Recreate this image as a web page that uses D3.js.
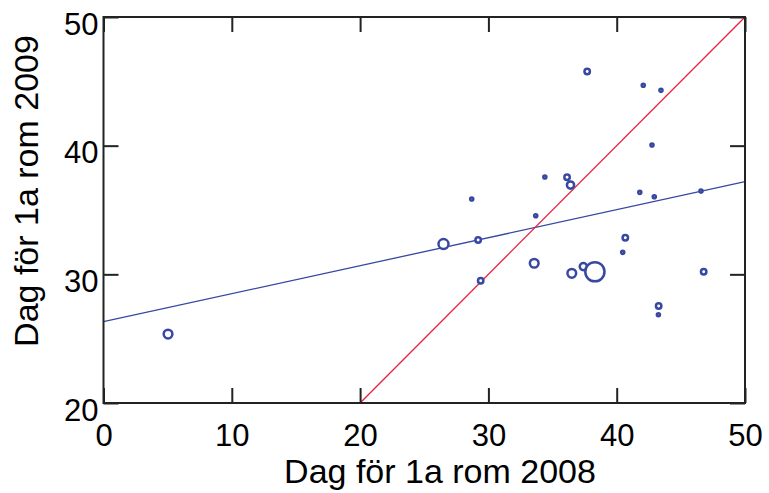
<!DOCTYPE html>
<html>
<head>
<meta charset="utf-8">
<script src="https://cdn.jsdelivr.net/npm/d3@7"></script>
<style>
  html, body { margin: 0; padding: 0; background: #fff; }
  svg { display: block; }
  text { font-family: "Liberation Sans", Arial, sans-serif; fill: #000; }
</style>
</head>
<body>
<svg id="chart" width="769" height="493"></svg>
<script>
// Dag för 1a rom 2008 (x) och 2009 (y), antal (bubbelstorlek)
const dag2008 = [5.03, 26.5, 29.2, 28.7, 29.4, 33.57, 33.69, 34.4, 36.13, 36.4, 36.5, 37.4, 38.3, 37.7, 42.07, 43.45, 42.75, 41.8, 42.93, 46.57, 40.67, 40.47, 46.78, 43.27, 43.25];
const dag2009 = [25.36, 32.35, 32.67, 35.85, 29.5, 30.86, 34.55, 37.56, 37.54, 36.94, 30.08, 30.6, 30.2, 45.77, 44.69, 44.3, 40.05, 36.37, 36.03, 36.47, 32.84, 31.71, 30.2, 27.54, 26.86];
const antal   = [4, 5, 2, 1, 2, 4, 1, 1, 2, 3, 4, 3, 15, 2, 1, 1, 1, 1, 1, 1, 2, 1, 2, 2, 1];

const xTicks = [0, 10, 20, 30, 40, 50];
const yTicks = [20, 30, 40, 50];

// regressionslinje och 1:1-linje
const trendX = [0, 50];
const trendY = [26.32, 37.2];
const refX = [20, 50];
const refY = [20, 50];

const xLabel = "Dag för 1a rom 2008";
const yLabel = "Dag för 1a rom 2009";

const svg = d3.select("#chart");
const L = 103.5, R = 745, T = 17, B = 403;
const x = d3.scaleLinear().domain([0, 50]).range([L, R]);
const y = d3.scaleLinear().domain([20, 50]).range([B, T]);
const rScale = d3.scaleSqrt().domain([0, 1]).range([0, 2.8]);

const blue = "#3848a2", red = "#e8203c", axisCol = "#222";
const sw = 2.5;

const points = dag2008.map((d, i) => ({ x: d, y: dag2009[i], n: antal[i] }));

// lines
const line = d3.line().x(d => x(d[0])).y(d => y(d[1]));
svg.append("path").attr("d", line(trendX.map((v, i) => [v, trendY[i]])))
  .attr("fill", "none").attr("stroke", blue).attr("stroke-width", 1.3);
svg.append("path").attr("d", line(refX.map((v, i) => [v, refY[i]])))
  .attr("fill", "none").attr("stroke", red).attr("stroke-width", 1.3);

// points
svg.append("g").selectAll("circle").data(points).join("circle")
  .attr("cx", d => x(d.x)).attr("cy", d => y(d.y))
  .attr("r", d => Math.max(0.8, rScale(d.n) - sw / 2))
  .attr("fill", "#fff").attr("stroke", blue).attr("stroke-width", sw);

// axes (mirrored, inward ticks)
const tickLen = 15;
const gx = svg.append("g").attr("transform", `translate(0,${B})`)
  .call(d3.axisBottom(x).tickValues(xTicks).tickSize(-tickLen).tickPadding(0).tickFormat(d3.format("d")));
const gxTop = svg.append("g").attr("transform", `translate(0,${T})`)
  .call(d3.axisTop(x).tickValues(xTicks).tickSize(-tickLen).tickFormat(""));
const gy = svg.append("g").attr("transform", `translate(${L},0)`)
  .call(d3.axisLeft(y).tickValues(yTicks).tickSize(-tickLen).tickFormat(d3.format("d")));
const gyR = svg.append("g").attr("transform", `translate(${R},0)`)
  .call(d3.axisRight(y).tickValues(yTicks).tickSize(-tickLen).tickFormat(""));

[gx, gxTop, gy, gyR].forEach(g => {
  g.select(".domain").remove();
  g.selectAll(".tick line").attr("stroke", axisCol).attr("stroke-width", 2);
});

gx.selectAll(".tick text")
  .attr("y", 43).attr("dy", null)
  .attr("font-size", 31).attr("font-family", "Liberation Sans, Arial, sans-serif").attr("fill", "#000");
gy.selectAll(".tick text")
  .attr("x", -5).attr("dy", null).attr("y", 17)
  .attr("font-size", 31).attr("font-family", "Liberation Sans, Arial, sans-serif").attr("fill", "#000");

// frame
svg.append("rect").attr("x", L).attr("y", T).attr("width", R - L).attr("height", B - T)
  .attr("fill", "none").attr("stroke", axisCol).attr("stroke-width", 2);

// axis titles
svg.append("text").attr("x", 440).attr("y", 483).attr("text-anchor", "middle")
  .attr("font-size", 34).text(xLabel);
svg.append("text").attr("transform", "translate(38,191) rotate(-90)")
  .attr("text-anchor", "middle").attr("font-size", 34).text(yLabel);
</script>
</body>
</html>
